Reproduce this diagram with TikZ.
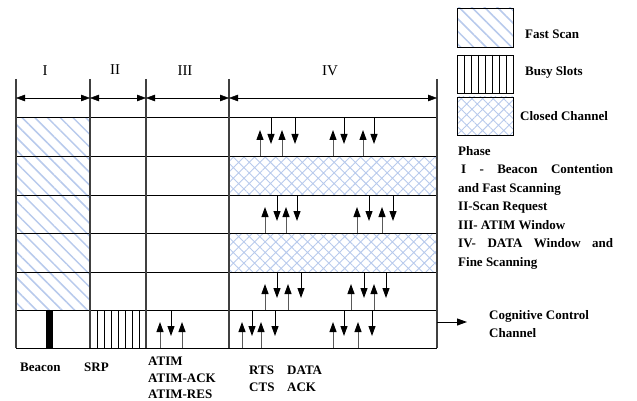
\documentclass[tikz,border=0pt]{standalone}
\usepackage{fontspec}
\setmainfont{Liberation Serif}
\usetikzlibrary{arrows.meta,patterns.meta,positioning,calc}
\definecolor{scanblue}{RGB}{184,202,236}

\begin{document}
\begin{tikzpicture}[
  x=1pt, y=-1pt,
  >={Triangle[length=9pt,width=6.5pt]},
  hline/.style={line width=1pt},
  vline/.style={line width=1.2pt, black!75},
  fastscan/.style={pattern={Lines[angle=-45,distance=9pt,line width=1.5pt]}, pattern color=scanblue},
  closedch/.style={pattern={Hatch[angle=45,distance=7.5pt,line width=0.9pt]}, pattern color=scanblue},
  uparr/.style={gray!70!black, line width=1pt, -{Triangle[length=10pt,width=7pt,color=black]}},
  downarr/.style={line width=1pt, -{Triangle[length=10pt,width=7pt]}},
  lbl/.style={font=\bfseries\fontsize{13}{18}\selectfont, inner sep=0pt, align=left},
  phasenum/.style={font=\fontsize{15}{16}\selectfont, inner sep=0pt}
]
\useasboundingbox (0,0) rectangle (637,401);

% areas
\fill[fastscan] (16,118) rectangle (90,310);
\fill[closedch] (229,156) rectangle (437,195);
\fill[closedch] (229,233) rectangle (437,272);

% busy slots and beacon
\foreach \x in {97,104,...,139} \draw (\x,310) -- (\x,348);
\fill (46,310) rectangle (53,348);

% grid
\foreach \y in {118,156,195,233,272,310,348}
  \draw[hline] (16,\y) -- (437,\y);
\foreach \x in {16,90,146,229,437}
  \draw[vline] (\x,79) -- (\x,348);

% phases
\node[phasenum] (pI) at (45,71) {I};
\node[phasenum] (pII) at (115,70) {II};
\node[phasenum] (pIII) at (185,71) {III};
\node[phasenum] (pIV) at (330,71) {IV};
\foreach \n/\x in {h0/16,h1/90,h2/146,h3/229,h4/437}
  \coordinate (\n) at (\x,98);
\draw[<->] (h0) -- (h1);
\draw[<->] (h1) -- (h2);
\draw[<->] (h2) -- (h3);
\draw[<->] (h3) -- (h4);

% data channels
\foreach \x in {260,282,333,363} \draw[uparr] (\x,156) -- ++(0,-26);
\foreach \x in {271,295,344,374} \draw[downarr] (\x,118) -- ++(0,26);
\foreach \x in {265,286,357,382} \draw[uparr] (\x,233) -- ++(0,-26);
\foreach \x in {277,297,369,393} \draw[downarr] (\x,195) -- ++(0,26);
\foreach \x in {265,288,351,374} \draw[uparr] (\x,310) -- ++(0,-26);
\foreach \x in {277,301,364,386} \draw[downarr] (\x,272) -- ++(0,26);

% control channel
\foreach \x in {160,182,242,261,333,358} \draw[uparr] (\x,348) -- ++(0,-26);
\foreach \x in {171,252,275,344,372} \draw[downarr] (\x,310) -- ++(0,26);

\coordinate (out) at (437,322);
\node[lbl, anchor=west] (ccc) at (489,324) {Cognitive Control\\Channel};
\draw[->, line width=1pt, >={Triangle[length=10pt,width=7pt]}] (out) -- ++(30,0);

% bottom labels
\node[lbl, anchor=west] (beacon) at (20,367) {Beacon};
\node[lbl, anchor=west] (srp) at (84,367) {SRP};
\node[lbl, anchor=north west, font=\bfseries\fontsize{13}{16.5}\selectfont] (atim) at (148,357)
  {ATIM\\ATIM-ACK\\ATIM-RES};
\node[lbl, anchor=north west, font=\bfseries\fontsize{13}{17}\selectfont] (rts) at (249,366) {RTS\\CTS};
\node[lbl, anchor=north west, font=\bfseries\fontsize{13}{17}\selectfont] (data) at (287,366) {DATA\\ACK};

% legend
\draw[fastscan] (457,8) rectangle (513,47);
\draw (457,55) rectangle (513,93);
\foreach \x in {464,471,...,506} \draw (\x,55) -- (\x,93);
\draw[closedch] (457,97) rectangle (513,135);
\node[lbl, anchor=west] (fs) at (525,34) {Fast Scan};
\node[lbl, anchor=west] (bs) at (525,72) {Busy Slots};
\node[lbl, anchor=west] (cc) at (520,116) {Closed Channel};

\node[lbl, anchor=north west, text width=155pt, align=justify,
  font=\bfseries\fontsize{13}{18.5}\selectfont] (phase) at (458,146)
  {Phase\\
   \hspace*{3pt}I - Beacon Contention\linebreak and Fast Scanning\\
   II-Scan Request\\
   III- ATIM Window\\
   IV- DATA Window and\linebreak Fine Scanning};
\end{tikzpicture}
\end{document}
